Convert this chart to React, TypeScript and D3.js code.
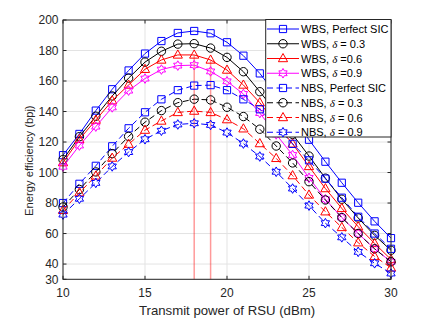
import * as d3 from 'd3'
import { useEffect, useRef } from 'react'

// transmit power of the RSU (dBm)
const power = [10, 11, 12, 13, 14, 15, 16, 17, 18, 19, 20, 21, 22, 23, 24, 25, 26, 27, 28, 29, 30]

// energy efficiency (bpj)
const wbsPerfect = [111.4, 125.3, 140.6, 154.6, 166.9, 178.0, 186.2, 191.5, 192.8, 191.3, 185.4, 176.6, 165.0, 151.0, 136.5, 121.5, 107.1, 93.3, 80.2, 68.0, 57.0]
const wbs03 = [108.5, 123.5, 136.9, 150.2, 161.9, 172.4, 179.5, 184.2, 184.5, 181.6, 175.5, 166.1, 153.0, 139.5, 125.0, 110.8, 96.3, 82.5, 70.2, 58.8, 49.0]
const wbs06 = [106.5, 121.8, 134.4, 147.1, 157.4, 167.7, 173.8, 177.1, 177.1, 173.8, 167.2, 157.4, 145.8, 132.0, 118.8, 104.0, 89.5, 76.5, 64.5, 53.5, 43.0]
const wbs09 = [103.8, 117.7, 130.1, 142.7, 153.7, 161.6, 167.5, 170.1, 170.4, 166.3, 159.8, 151.5, 139.0, 125.0, 111.5, 96.5, 82.5, 70.5, 60.0, 50.0, 41.5]
const nbsPerfect = [80.0, 92.6, 104.4, 117.2, 129.0, 139.5, 148.0, 154.0, 157.0, 157.3, 154.0, 148.0, 141.5, 130.5, 118.8, 108.0, 96.0, 83.5, 71.0, 60.0, 50.0]
const nbs03 = [77.4, 88.9, 100.4, 112.4, 123.7, 133.0, 140.6, 145.8, 148.1, 147.6, 142.8, 136.7, 128.4, 117.4, 106.3, 94.0, 82.0, 70.5, 60.0, 50.0, 41.5]
const nbs06 = [75.2, 86.8, 97.8, 109.5, 118.6, 127.8, 133.8, 139.4, 140.3, 139.4, 134.7, 128.7, 119.0, 109.3, 98.0, 85.3, 74.3, 64.0, 54.0, 45.0, 37.5]
const nbs09 = [72.4, 82.8, 93.2, 104.0, 113.4, 121.8, 127.4, 131.5, 132.3, 131.2, 126.2, 119.0, 110.5, 100.5, 89.5, 78.3, 66.8, 57.5, 48.0, 40.5, 33.8]

// optimum markers (vertical guide lines)
const optPower = [18, 19]
const optTop = [177.1, 173.8]

const xTicks = [10, 15, 20, 25, 30]
const yTicks = [30, 40, 60, 80, 100, 120, 140, 160, 180, 200]

// legend text: [prefix, italic symbol, suffix]
const labels: [string, string, string][] = [
  ['WBS, Perfect SIC', '', ''],
  ['WBS, ', 'δ', ' = 0.3'],
  ['WBS, ', 'δ', ' =0.6'],
  ['WBS, ', 'δ', ' =0.9'],
  ['NBS, Perfect SIC', '', ''],
  ['NBS, ', 'δ', ' = 0.3'],
  ['NBS, ', 'δ', ' = 0.6'],
  ['NBS, ', 'δ', ' = 0.9'],
]
const values = [wbsPerfect, wbs03, wbs06, wbs09, nbsPerfect, nbs03, nbs06, nbs09]

type Marker = 'square' | 'circle' | 'triangle' | 'hexagram'
const styles: { color: string, marker: Marker, dashed: boolean }[] = [
  { color: '#0000ff', marker: 'square', dashed: false },
  { color: '#000000', marker: 'circle', dashed: false },
  { color: '#ff0000', marker: 'triangle', dashed: false },
  { color: '#ff00ff', marker: 'hexagram', dashed: false },
  { color: '#0000ff', marker: 'square', dashed: true },
  { color: '#000000', marker: 'circle', dashed: true },
  { color: '#ff0000', marker: 'triangle', dashed: true },
  { color: '#0000ff', marker: 'hexagram', dashed: true },
]

function markerPath(m: Marker){
  if(m === 'square') return 'M-3.6,-3.6H3.6V3.6H-3.6Z'
  if(m === 'circle') return 'M4.2,0A4.2,4.2 0 1 1 -4.2,0A4.2,4.2 0 1 1 4.2,0Z'
  if(m === 'triangle') return 'M0,-5L4.6,3.2L-4.6,3.2Z'
  // six-pointed star outline
  const R = 4.8, r = R / Math.sqrt(3)
  const pts: string[] = []
  for(let i = 0; i < 12; i++){
    const a = -Math.PI / 2 + i * Math.PI / 6
    const rad = i % 2 === 0 ? R : r
    pts.push(`${(rad * Math.cos(a)).toFixed(2)},${(rad * Math.sin(a)).toFixed(2)}`)
  }
  return 'M' + pts.join('L') + 'Z'
}

export default function App(){
  const svgRef = useRef<SVGSVGElement|null>(null)
  const width = 424, height = 318
  const plot = { left: 63, right: 391, top: 20, bottom: 279.3 }

  useEffect(()=>{
    const svg = d3.select(svgRef.current)
    svg.selectAll('*').remove()
    const font = 'Liberation Sans, Arial, Helvetica, sans-serif'

    const x = d3.scaleLinear().domain([10, 30]).range([plot.left, plot.right])
    const y = d3.scaleLinear().domain([30, 200]).range([plot.bottom, plot.top])

    svg.append('rect').attr('width', width).attr('height', height).attr('fill', '#fff')

    // grid
    const grid = svg.append('g').attr('stroke', '#e3e3e3').attr('stroke-width', 1)
    grid.selectAll('line.h').data(yTicks).join('line')
      .attr('x1', plot.left).attr('x2', plot.right)
      .attr('y1', (d: number)=>y(d)).attr('y2', (d: number)=>y(d))
    grid.selectAll('line.v').data(xTicks).join('line')
      .attr('y1', plot.top).attr('y2', plot.bottom)
      .attr('x1', (d: number)=>x(d)).attr('x2', (d: number)=>x(d))

    // optimum guide lines
    svg.append('g').selectAll('line').data(optPower).join('line')
      .attr('x1', (d: number)=>x(d)).attr('x2', (d: number)=>x(d))
      .attr('y1', y(30)).attr('y2', (_d: number, i: number)=>y(optTop[i]))
      .attr('stroke', '#ff0000').attr('stroke-opacity', 0.4).attr('stroke-width', 1.5)

    // curves
    const line = d3.line<number>().x((_d, i)=>x(power[i])).y((d)=>y(d))
    values.forEach((vals, k)=>{
      const s = styles[k]
      const g = svg.append('g')
      g.append('path')
        .attr('d', line(vals))
        .attr('fill', 'none')
        .attr('stroke', s.color)
        .attr('stroke-width', 1)
        .attr('stroke-dasharray', s.dashed ? '6,3.5' : null)
      g.selectAll('path.m').data(vals).join('path')
        .attr('d', markerPath(s.marker))
        .attr('transform', (d: number, i: number)=>`translate(${x(power[i])},${y(d)})`)
        .attr('fill', 'none')
        .attr('stroke', s.color)
        .attr('stroke-width', 1)
    })

    // box + ticks
    const axisColor = '#262626'
    svg.append('rect')
      .attr('x', plot.left).attr('y', plot.top)
      .attr('width', plot.right - plot.left).attr('height', plot.bottom - plot.top)
      .attr('fill', 'none').attr('stroke', axisColor).attr('stroke-width', 1)
    const ticks = svg.append('g').attr('stroke', axisColor)
    ticks.selectAll('line.xb').data(xTicks).join('line')
      .attr('x1', (d: number)=>x(d)).attr('x2', (d: number)=>x(d))
      .attr('y1', plot.bottom).attr('y2', plot.bottom - 3.5)
    ticks.selectAll('line.xt').data(xTicks).join('line')
      .attr('x1', (d: number)=>x(d)).attr('x2', (d: number)=>x(d))
      .attr('y1', plot.top).attr('y2', plot.top + 3.5)
    ticks.selectAll('line.yl').data(yTicks).join('line')
      .attr('x1', plot.left).attr('x2', plot.left + 3.5)
      .attr('y1', (d: number)=>y(d)).attr('y2', (d: number)=>y(d))
    ticks.selectAll('line.yr').data(yTicks).join('line')
      .attr('x1', plot.right).attr('x2', plot.right - 3.5)
      .attr('y1', (d: number)=>y(d)).attr('y2', (d: number)=>y(d))

    svg.append('g').selectAll('text').data(xTicks).join('text')
      .attr('x', (d: number)=>x(d)).attr('y', 296.5)
      .attr('text-anchor', 'middle')
      .attr('font-family', font).attr('font-size', 12).attr('fill', axisColor)
      .text((d: number)=>d)
    svg.append('g').selectAll('text').data(yTicks).join('text')
      .attr('x', 58.5).attr('y', (d: number)=>y(d) + 4.3)
      .attr('text-anchor', 'end')
      .attr('font-family', font).attr('font-size', 12).attr('fill', axisColor)
      .text((d: number)=>d)

    svg.append('text')
      .attr('x', (plot.left + plot.right) / 2).attr('y', 314.5)
      .attr('text-anchor', 'middle')
      .attr('font-family', font).attr('font-size', 13.2).attr('fill', axisColor)
      .text('Transmit power of RSU (dBm)')
    svg.append('text')
      .attr('transform', `translate(32.5,${(plot.top + plot.bottom) / 2 + 11}) rotate(-90)`)
      .attr('text-anchor', 'middle')
      .attr('font-family', font).attr('font-size', 11.2).attr('fill', axisColor)
      .text('Energy efficiency (bpj)')

    // legend
    const lg = svg.append('g')
    lg.append('rect')
      .attr('x', 265.7).attr('y', 19.5).attr('width', 391 - 265.7).attr('height', 137 - 19.5)
      .attr('fill', '#fff').attr('stroke', axisColor).attr('stroke-width', 1)
    labels.forEach((lab, k)=>{
      const s = styles[k]
      const cy = 29 + k * 14.75
      lg.append('line')
        .attr('x1', 267).attr('x2', 299).attr('y1', cy).attr('y2', cy)
        .attr('stroke', s.color).attr('stroke-width', 1)
        .attr('stroke-dasharray', s.dashed ? '6,3.5' : null)
      lg.append('path')
        .attr('d', markerPath(s.marker))
        .attr('transform', `translate(283,${cy})`)
        .attr('fill', 'none').attr('stroke', s.color).attr('stroke-width', 1)
      const t = lg.append('text')
        .attr('x', 301).attr('y', cy + 4)
        .attr('font-family', font).attr('font-size', 11).attr('fill', '#000')
      t.append('tspan').text(lab[0])
      if(lab[1]) t.append('tspan').attr('font-style', 'italic').attr('font-family', 'Liberation Serif, serif').text(lab[1])
      if(lab[2]) t.append('tspan').text(lab[2])
    })
  }, [])

  return (
    <div style={{ position: 'absolute', left: 0, top: 0 }}>
      <svg ref={svgRef} width={width} height={height}></svg>
    </div>
  )
}
